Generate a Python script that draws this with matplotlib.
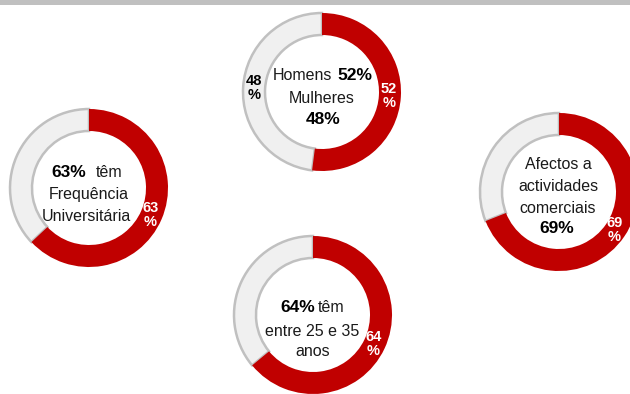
import matplotlib
matplotlib.use("Agg")
import matplotlib.pyplot as plt
import numpy as np

plt.rcParams['font.family'] = ['Liberation Sans', 'DejaVu Sans']

# share (%) shown in red for each donut
values = [52, 63, 69, 64]
# donut centres in pixel coords of the 630x394 picture
centres = [(322, 92), (89, 188), (559, 192), (313, 315)]

RED = '#c00000'
LIGHT = '#f0f0f0'
EDGE = '#c0c0c0'
R_OUT = 79
WIDTH = 22

fig = plt.figure(figsize=(6.3, 3.94), dpi=100)
ax = fig.add_axes([0, 0, 1, 1])

for v, (cx, cy) in zip(values, centres):
    # y axis gets inverted below: start at -90 = top of screen, counterclock = clockwise on screen
    wedges, _ = ax.pie([v, 100 - v], colors=[RED, LIGHT], startangle=-90,
                       counterclock=True, radius=R_OUT, center=(cx, cy),
                       wedgeprops=dict(width=WIDTH))
    wedges[1].set_edgecolor(EDGE)
    wedges[1].set_linewidth(1.8)
    wedges[0].set_zorder(3)
    wedges[1].set_zorder(2)
    # value label inside the red ring
    ang = np.deg2rad(-90 + v / 2 * 3.6)
    rm = R_OUT - WIDTH / 2 - 1
    ax.text(cx + rm * np.cos(ang), cy + rm * np.sin(ang),
            f'{v}\n%', color='white', fontweight='bold', fontsize=10.5,
            ha='center', va='center', linespacing=1.0, zorder=5)

ax.set_xlim(0, 630)
ax.set_ylim(394, 0)
ax.set_aspect('equal')
ax.axis('off')

# grey strip at the top
ax.axhspan(0, 5, color='#c0c0c0', lw=0)

# label on the grey part of the first donut
ax.text(254, 88, '48\n%', color='black', fontweight='bold', fontsize=10.5,
        ha='center', va='center', linespacing=1.0, zorder=5)

fs = 11.5
fb = 12.5
TXT = '#1a1a1a'
# top donut
ax.text(332, 75, 'Homens', fontsize=fs, ha='right', va='center', color=TXT)
ax.text(337, 75, '52%', fontsize=fb, fontweight='bold', ha='left', va='center')
ax.text(322, 98, 'Mulheres', fontsize=fs, ha='center', va='center', color=TXT)
ax.text(323, 119, '48%', fontsize=fb, fontweight='bold', ha='center', va='center')
# left donut
ax.text(86, 172, '63%', fontsize=fb, fontweight='bold', ha='right', va='center')
ax.text(96, 172, 'têm', fontsize=fs, ha='left', va='center', color=TXT)
ax.text(89, 194, 'Frequência', fontsize=fs, ha='center', va='center', color=TXT)
ax.text(86, 216, 'Universitária', fontsize=fs, ha='center', va='center', color=TXT)
# right donut
ax.text(558, 164, 'Afectos a', fontsize=fs, ha='center', va='center', color=TXT)
ax.text(558, 186, 'actividades', fontsize=fs, ha='center', va='center', color=TXT)
ax.text(558, 208, 'comerciais', fontsize=fs, ha='center', va='center', color=TXT)
ax.text(557, 228, '69%', fontsize=fb, fontweight='bold', ha='center', va='center')
# bottom donut
ax.text(315, 308, '64%', fontsize=fb, fontweight='bold', ha='right', va='center')
ax.text(318, 308, 'têm', fontsize=fs, ha='left', va='center', color=TXT)
ax.text(312, 331, 'entre 25 e 35', fontsize=fs, ha='center', va='center', color=TXT)
ax.text(313, 352, 'anos', fontsize=fs, ha='center', va='center', color=TXT)

fig.savefig('out.png', dpi=100)
